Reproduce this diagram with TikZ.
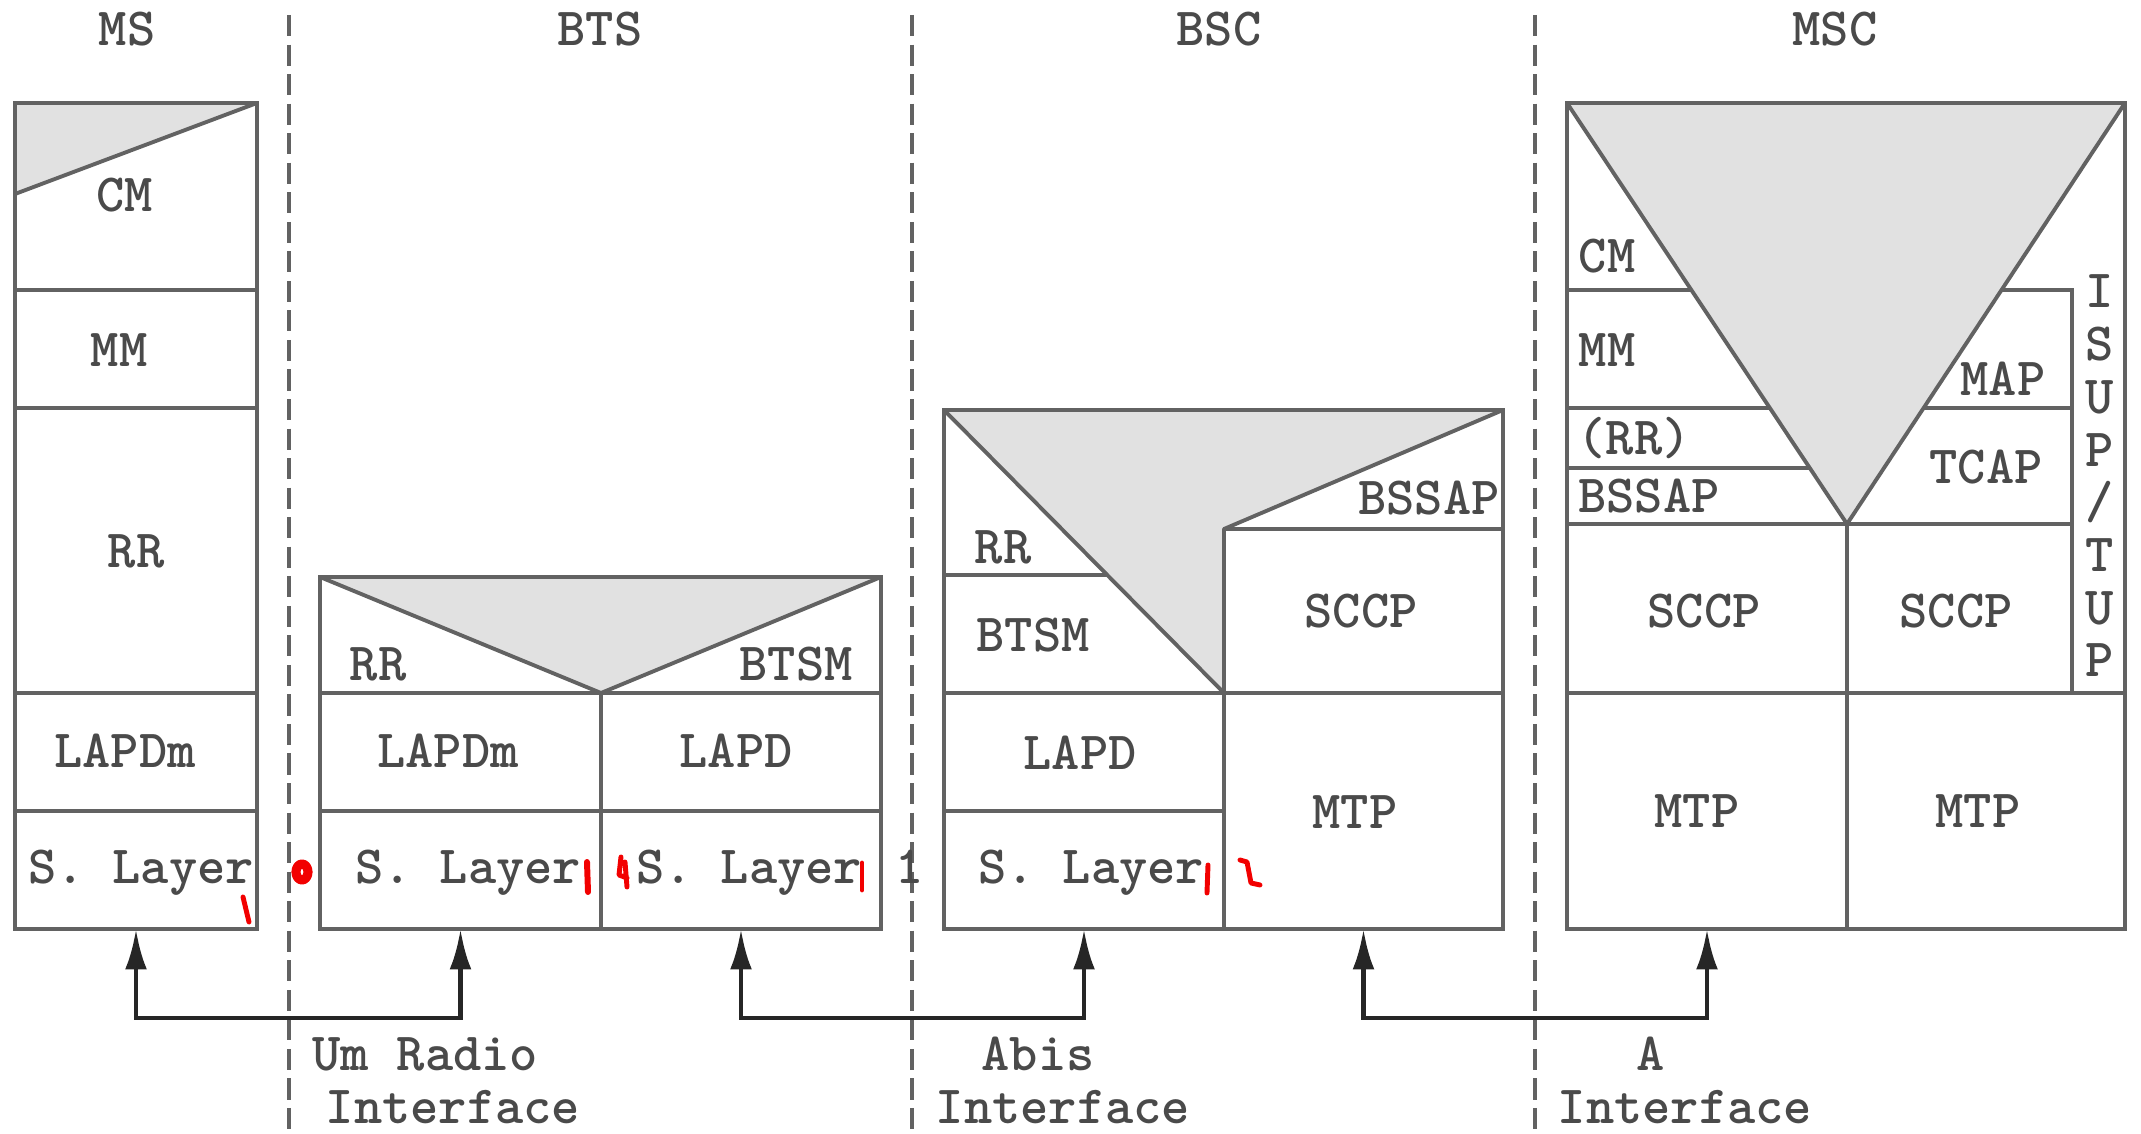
\documentclass[tikz,border=0pt]{standalone}
\usepackage{tikz}
\usepackage{xcolor}
\definecolor{stackLine}{HTML}{626262}
\definecolor{stackShade}{HTML}{E1E1E1}
\definecolor{stackText}{HTML}{4A4A4A}
\definecolor{stackMark}{HTML}{F20000}
\usetikzlibrary{fit,arrows.meta}

\begin{document}
\begin{tikzpicture}[x=0.01cm, y=-0.01cm,
  layerbox/.style={draw=stackLine, line width=1.1pt, inner sep=0pt, outer sep=0pt},
  greyArea/.style={fill=stackShade, draw=stackLine, line width=1.1pt, line join=round},
  lbl/.style={anchor=base, inner sep=0pt, text=stackText, font=\fontsize{15.3}{15.2}\selectfont\ttfamily\bfseries},
  iface/.style={draw=stackLine, line width=1pt, dash pattern=on 6pt off 2.4pt},
  link/.style={draw=black!85, line width=1.4pt, {Latex[length=11.5pt,width=6.2pt]}-{Latex[length=11.5pt,width=6.2pt]}},
  scrib/.style={draw=stackMark, line width=1.4pt, line cap=round, line join=round}]
  \useasboundingbox (0,0) rectangle (2141,1134);

  \draw[iface] (289,15) -- (289,1134);
  \draw[iface] (912,15) -- (912,1134);
  \draw[iface] (1535,15) -- (1535,1134);

  \node[lbl] (hMS) at (127,46) {MS};
  \node[lbl] (hBTS) at (600,46) {BTS};
  \node[lbl] (hBSC) at (1219,46) {BSC};
  \node[lbl] (hMSC) at (1835,46) {MSC};

  % MS
  \node[layerbox, fit={(15,103)(257,290)}] (msCM) {};
  \node[layerbox, fit={(15,290)(257,408)}] (msMM) {};
  \node[layerbox, fit={(15,408)(257,693)}] (msRR) {};
  \node[layerbox, fit={(15,693)(257,811)}] (msLAPDm) {};
  \node[layerbox, fit={(15,811)(257,929)}] (msS) {};
  \filldraw[greyArea] (15,103) -- (257,103) -- (15,194) -- cycle;
  \node[lbl] (msCMt) at (125,212) {CM};
  \node[lbl] (msMMt) at (119,367) {MM};
  \node[lbl] (msRRt) at (136,568) {RR};
  \node[lbl] (msLAPDmt) at (125,768) {LAPDm};
  \node[lbl] (msSt) at (141,884) {S. Layer};

  % BTS
  \node[layerbox, fit={(320,577)(881,693)}] (btsTop) {};
  \node[layerbox, fit={(320,693)(601,811)}] (btsLAPDm) {};
  \node[layerbox, fit={(601,693)(881,811)}] (btsLAPD) {};
  \node[layerbox, fit={(320,811)(601,929)}] (btsSa) {};
  \node[layerbox, fit={(601,811)(881,929)}] (btsSb) {};
  \filldraw[greyArea] (320,577) -- (881,577) -- (601,693) -- cycle;
  \node[lbl] (btsRRt) at (378,681) {RR};
  \node[lbl] (btsBTSMt) at (796,681) {BTSM};
  \node[lbl] (btsLAPDmt) at (448,768) {LAPDm};
  \node[lbl] (btsLAPDt) at (736,768) {LAPD};
  \node[lbl] (btsSat) at (468,884) {S. Layer};
  \node[lbl] (btsSbt) at (749,884) {S. Layer};
  \node[lbl] (btsOne) at (910,884) {1};

  % BSC
  \node[layerbox, fit={(944,410)(1224,575)}] (bscRR) {};
  \node[layerbox, fit={(944,575)(1224,693)}] (bscBTSM) {};
  \node[layerbox, fit={(944,693)(1224,811)}] (bscLAPD) {};
  \node[layerbox, fit={(944,811)(1224,929)}] (bscS) {};
  \node[layerbox, fit={(1224,410)(1503,529)}] (bscBSSAP) {};
  \node[layerbox, fit={(1224,529)(1503,693)}] (bscSCCP) {};
  \node[layerbox, fit={(1224,693)(1503,929)}] (bscMTP) {};
  \filldraw[greyArea] (944,410) -- (1503,410) -- (1224,529) -- (1224,693) -- cycle;
  \node[lbl] (bscRRt) at (1003,564) {RR};
  \node[lbl] (bscBTSMt) at (1033,652) {BTSM};
  \node[lbl] (bscLAPDt) at (1080,770) {LAPD};
  \node[lbl] (bscSt) at (1091,884) {S. Layer};
  \node[lbl] (bscBSSAPt) at (1429,515) {BSSAP};
  \node[lbl] (bscSCCPt) at (1361,628) {SCCP};
  \node[lbl] (bscMTPt) at (1355,829) {MTP};

  % MSC
  \node[layerbox, fit={(1567,103)(2125,929)}] (mscBox) {};
  \node[layerbox, fit={(1567,103)(1847,290)}] (mscCM) {};
  \node[layerbox, fit={(1567,290)(1847,408)}] (mscMM) {};
  \node[layerbox, fit={(1567,408)(1847,468)}] (mscRR) {};
  \node[layerbox, fit={(1567,468)(1847,524)}] (mscBSSAP) {};
  \node[layerbox, fit={(1567,524)(1847,693)}] (mscSCCPa) {};
  \node[layerbox, fit={(1567,693)(1847,929)}] (mscMTPa) {};
  \node[layerbox, fit={(1847,290)(2072,408)}] (mscMAP) {};
  \node[layerbox, fit={(1847,408)(2072,524)}] (mscTCAP) {};
  \node[layerbox, fit={(1847,524)(2072,693)}] (mscSCCPb) {};
  \node[layerbox, fit={(1847,693)(2125,929)}] (mscMTPb) {};
  \filldraw[greyArea] (1567,103) -- (2125,103) -- (1847,524) -- cycle;
  \node[lbl] (mscCMt) at (1607,273) {CM};
  \node[lbl] (mscMMt) at (1607,367) {MM};
  \node[lbl] (mscRRt) at (1634,455) {(RR)};
  \node[lbl] (mscBSSAPt) at (1649,513) {BSSAP};
  \node[lbl] (mscMAPt) at (2003,396) {MAP};
  \node[lbl] (mscTCAPt) at (1986,484) {TCAP};
  \node[lbl] (mscSCCPat) at (1704,628) {SCCP};
  \node[lbl] (mscSCCPbt) at (1956,628) {SCCP};
  \node[lbl] (mscMTPat) at (1697,828) {MTP};
  \node[lbl] (mscMTPbt) at (1978,828) {MTP};
  \foreach \ch [count=\i from 0] in {I,S,U,P,/,T,U,P}
    \node[lbl] (isup\i) at (2100,308+52.7*\i) {\ch};

  % links
  \draw[link] (msS.south) -- ++(0,89) -| (btsSa.south);
  \draw[link] (btsSb.south) -- ++(0,89) -| (bscS.south);
  \draw[link] (bscMTP.south) -- ++(0,89) -| (mscMTPa.south);

  \node[lbl] (umA) at (425,1071) {Um Radio};
  \node[lbl] (umB) at (453,1124) {Interface};
  \node[lbl] (abisA) at (1038,1071) {Abis};
  \node[lbl] (abisB) at (1063,1124) {Interface};
  \node[lbl] (aA) at (1651,1071) {A};
  \node[lbl] (aB) at (1685,1124) {Interface};

  \draw[scrib] (243,897) -- (249,922);
  \draw[scrib, line width=2.6pt] (302,872) ellipse [x radius=6, y radius=8];
  \draw[scrib, line width=1.7pt] (587,862) -- (588,892);
  \draw[scrib] (621,857) -- (619,875) -- (627,878) (625,862) -- (627,887);
  \draw[scrib] (862,863) -- (862,890);
  \draw[scrib] (1208,865) -- (1207,893);
  \draw[scrib] (1240,860) -- (1247,862) -- (1251,883) -- (1260,885);
\end{tikzpicture}
\end{document}
